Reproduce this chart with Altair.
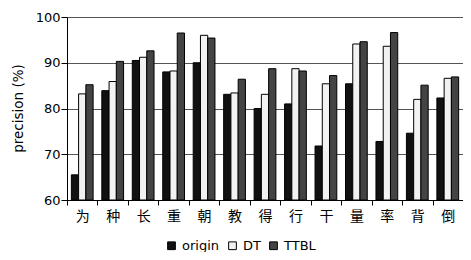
import altair as alt
import pandas as pd

cats = ["为", "种", "长", "重", "朝", "教", "得", "行", "干", "量", "率", "背", "倒"]
series = ["origin", "DT", "TTBL"]
origin = [65.5, 83.9, 90.5, 88.0, 90.0, 83.1, 80.0, 81.0, 71.8, 85.4, 72.8, 74.6, 82.3]
dt = [83.2, 85.9, 91.2, 88.2, 96.0, 83.4, 83.1, 88.7, 85.4, 94.1, 93.6, 82.0, 86.6]
ttbl = [85.2, 90.3, 92.6, 96.5, 95.4, 86.4, 88.7, 88.2, 87.2, 94.6, 96.6, 85.1, 86.9]
y_ticks = [60, 70, 80, 90, 100]

rows = []
for name, vals in zip(series, [origin, dt, ttbl]):
    for c, v in zip(cats, vals):
        rows.append({"cat": c, "series": name, "value": v})
df = pd.DataFrame(rows)

FONT = "DejaVu Sans"

chart = alt.Chart(df).mark_bar(stroke="black", strokeWidth=1).encode(
    x=alt.X("cat:N", sort=cats, title=None,
            scale=alt.Scale(paddingInner=0, paddingOuter=0),
            axis=alt.Axis(tickBand="extent", labelAngle=0, labelFont="Noto Sans CJK SC",
                          labelFontSize=14, labelColor="black", tickColor="black",
                          domainColor="black", tickSize=5, labelPadding=4, grid=False)),
    xOffset=alt.XOffset("series:N", sort=series,
                        scale=alt.Scale(paddingInner=0, paddingOuter=0.6)),
    y=alt.Y("value:Q", scale=alt.Scale(domain=[60, 100], zero=False, nice=False),
            axis=alt.Axis(values=y_ticks, title="precision (%)", titleFont=FONT,
                          titleFontSize=13.5, titleFontWeight="normal", titleColor="black",
                          titleX=-49, titleY=91, titleAngle=270, titleAlign="center",
                          titleBaseline="middle",
                          labelFont=FONT, labelFontSize=13, labelColor="black",
                          labelPadding=1, tickSize=6, tickColor="black",
                          domainColor="black", grid=True, gridColor="#555555",
                          gridWidth=1)),
    y2=alt.datum(60),
    fill=alt.Fill("series:N", sort=series,
                  scale=alt.Scale(domain=series, range=["#111111", "#f2f2f2", "#444444"]),
                  legend=alt.Legend(title=None, orient="none", legendX=98, legendY=222,
                                    direction="horizontal", symbolType="square",
                                    symbolSize=60, symbolStrokeColor="black",
                                    symbolStrokeWidth=1, labelFont=FONT, labelFontSize=13,
                                    labelColor="black", labelOffset=4, columnPadding=6,
                                    padding=0)),
).properties(
    width=396, height=183,
    autosize=alt.AutoSizeParams(type="none"),
    padding={"left": 59, "top": 9, "right": 0, "bottom": 52},
).configure_view(stroke=None).configure(background="white")

chart.save("out.html", embed_options={"renderer": "svg", "actions": False})
